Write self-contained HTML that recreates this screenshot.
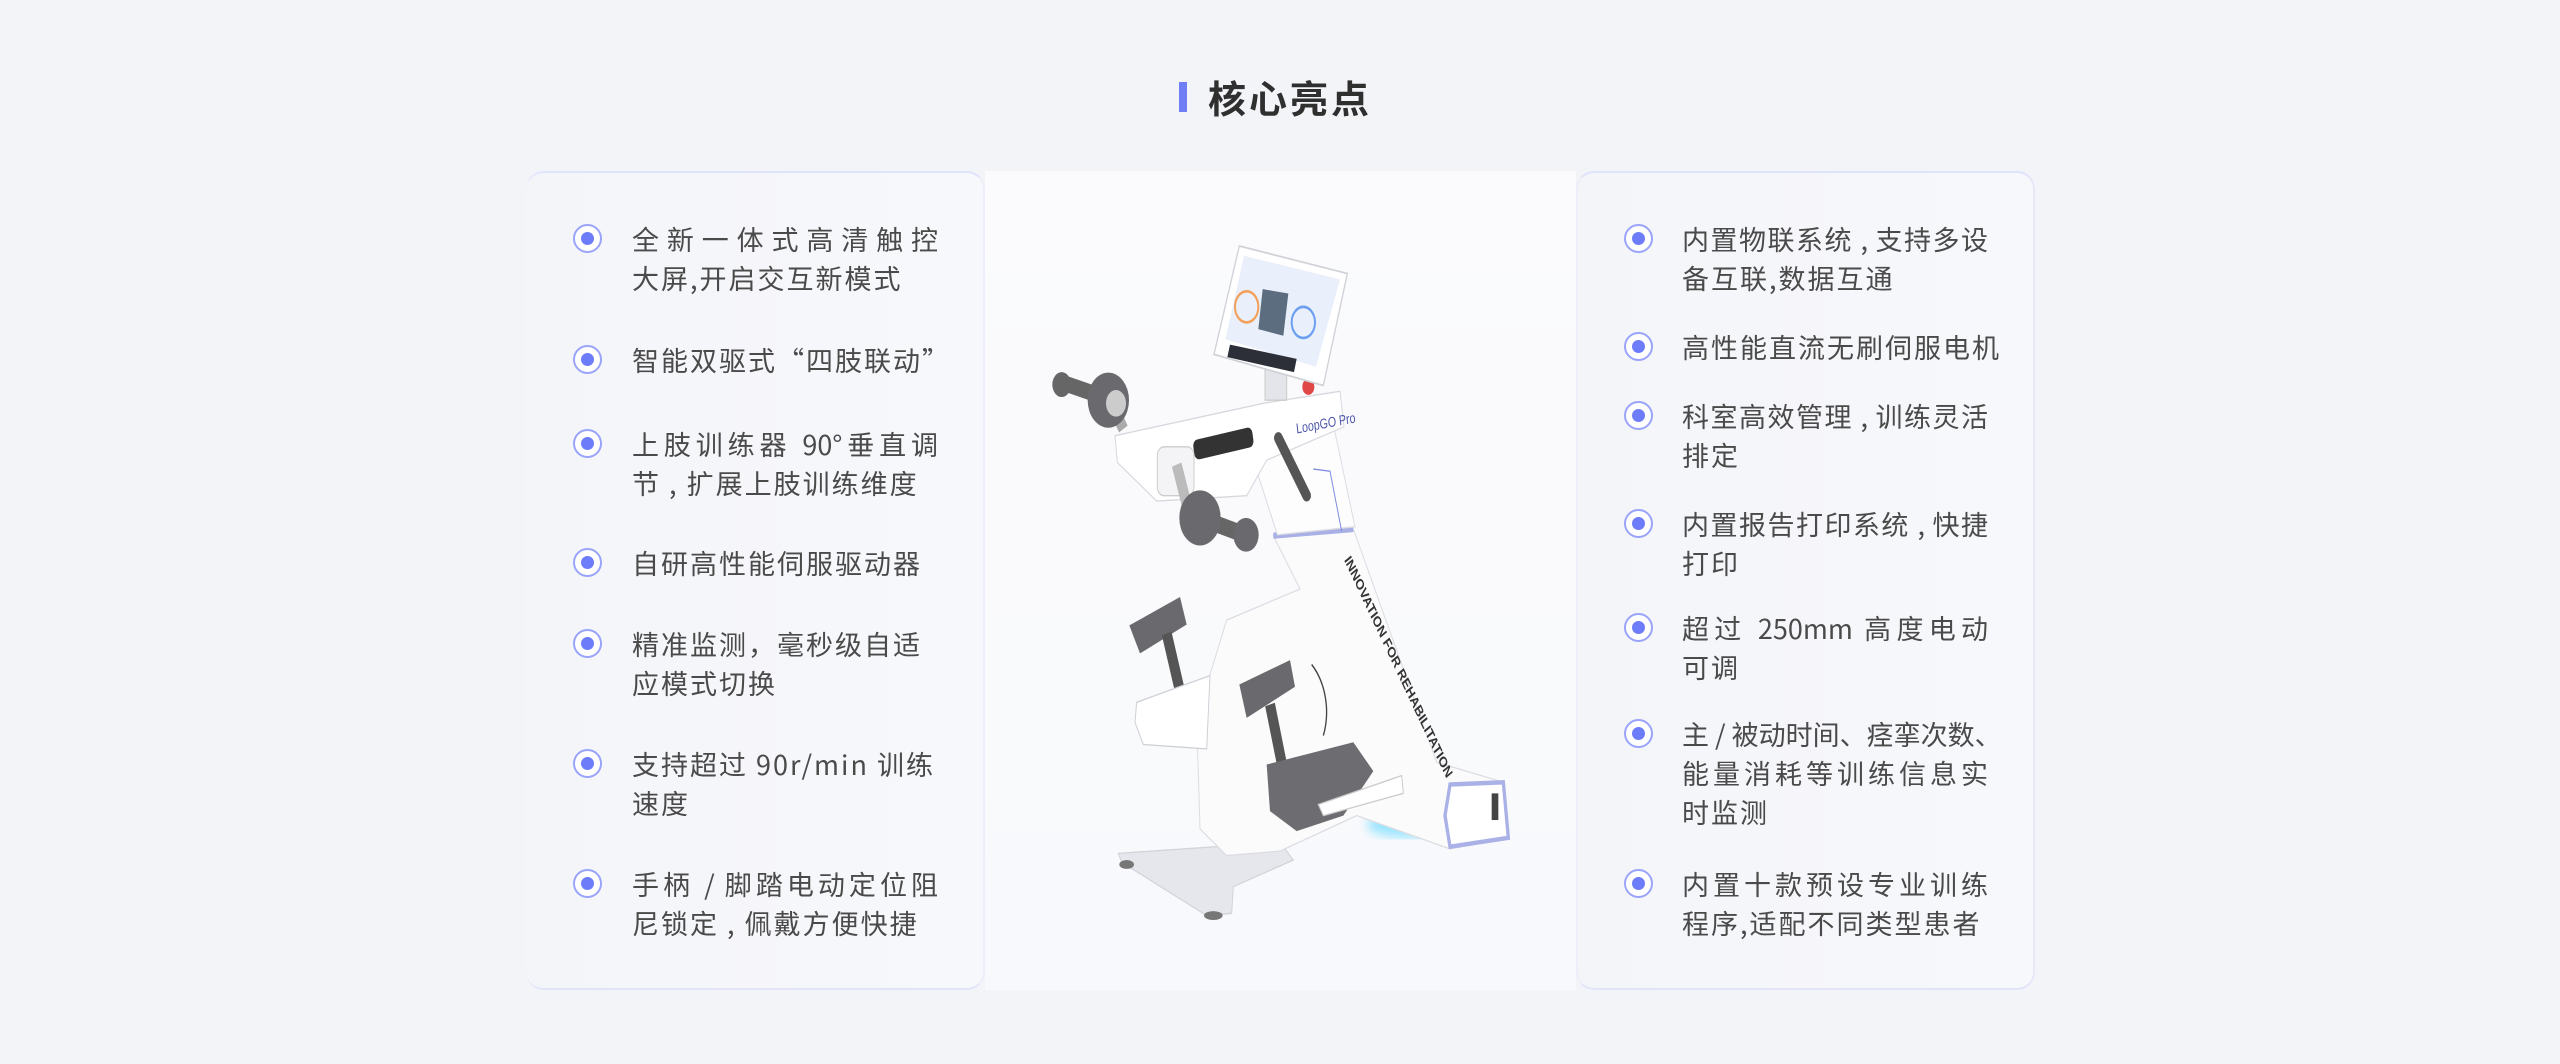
<!DOCTYPE html>
<html><head><meta charset="utf-8"><style>
*{margin:0;padding:0;box-sizing:border-box}
body{width:2560px;height:1064px;background:#f3f4f8;position:relative;overflow:hidden;font-family:"Liberation Sans","Noto Sans CJK SC",sans-serif;color:#454545}
.bar{position:absolute;left:1179px;top:82px;width:8px;height:30px;background:#6f7ef5}
.title{position:absolute;left:1208px;top:70px;font-size:38px;font-weight:bold;color:#2f2f2f;letter-spacing:3px;line-height:54px;font-family:"Noto Sans CJK SC",sans-serif}
.mid{position:absolute;left:985px;top:171px;width:591px;height:819px;background:linear-gradient(180deg,#fbfbfd,#f8f9fc)}
.card{position:absolute;top:171px;width:459px;height:819px;border-radius:18px;background:linear-gradient(90deg,#f4f5f9,#f7f8fb);border-top:2px solid #dfe3fb;border-bottom:2px solid #e2e5fa}
.l{left:526px;border-right:2px solid #eceef9}
.r{left:1576px;border-left:2px solid #eceef9;border-right:2px solid #e6e8f8}
.it{position:absolute;font-size:27px;line-height:39px;color:#4a4a4a;letter-spacing:2px;font-family:"Noto Sans CJK SC",sans-serif}
.it div{width:306px;white-space:nowrap}
.it div.j{text-align:justify;text-align-last:justify;letter-spacing:0}
.dot{position:absolute;width:29px;height:29px;border-radius:50%;border:2px solid #9aa4fb;background:#fff}
.dot::after{content:"";position:absolute;left:6px;top:6px;width:13px;height:13px;border-radius:50%;background:#6d7cf8}
</style></head><body>
<div class="bar"></div><div class="title">核心亮点</div>
<div class="mid"></div>
<div class="card l"></div>
<div class="card r"></div>

<div class="dot" style="left:573px;top:224px"></div>
<div class="it" style="left:632px;top:219px"><div class="j">全新一体式高清触控</div><div>大屏,开启交互新模式</div></div>
<div class="dot" style="left:573px;top:345px"></div>
<div class="it" style="left:632px;top:340px"><div>智能双驱式“四肢联动”</div></div>
<div class="dot" style="left:573px;top:429px"></div>
<div class="it" style="left:632px;top:424px"><div class="j">上肢训练器 90°垂直调</div><div>节 , 扩展上肢训练维度</div></div>
<div class="dot" style="left:573px;top:548px"></div>
<div class="it" style="left:632px;top:543px"><div>自研高性能伺服驱动器</div></div>
<div class="dot" style="left:573px;top:629px"></div>
<div class="it" style="left:632px;top:624px"><div>精准监测，毫秒级自适</div><div>应模式切换</div></div>
<div class="dot" style="left:573px;top:749px"></div>
<div class="it" style="left:632px;top:744px"><div>支持超过 90r/min 训练</div><div>速度</div></div>
<div class="dot" style="left:573px;top:869px"></div>
<div class="it" style="left:632px;top:864px"><div class="j">手柄 / 脚踏电动定位阻</div><div>尼锁定 , 佩戴方便快捷</div></div>

<div class="dot" style="left:1624px;top:224px"></div>
<div class="it" style="left:1682px;top:219px"><div class="j">内置物联系统 , 支持多设</div><div>备互联,数据互通</div></div>
<div class="dot" style="left:1624px;top:332px"></div>
<div class="it" style="left:1682px;top:327px"><div>高性能直流无刷伺服电机</div></div>
<div class="dot" style="left:1624px;top:401px"></div>
<div class="it" style="left:1682px;top:396px"><div class="j">科室高效管理 , 训练灵活</div><div>排定</div></div>
<div class="dot" style="left:1624px;top:509px"></div>
<div class="it" style="left:1682px;top:504px"><div class="j">内置报告打印系统 , 快捷</div><div>打印</div></div>
<div class="dot" style="left:1624px;top:613px"></div>
<div class="it" style="left:1682px;top:608px"><div class="j">超过 250mm 高度电动</div><div>可调</div></div>
<div class="dot" style="left:1624px;top:719px"></div>
<div class="it" style="left:1682px;top:714px"><div class="j">主 / 被动时间、痉挛次数、</div><div class="j">能量消耗等训练信息实</div><div>时监测</div></div>
<div class="dot" style="left:1624px;top:869px"></div>
<div class="it" style="left:1682px;top:864px"><div class="j">内置十款预设专业训练</div><div>程序,适配不同类型患者</div></div>

<svg style="position:absolute;left:1040px;top:238px" width="480" height="690" viewBox="0 0 1440 1553" preserveAspectRatio="none">
<defs><filter id="b"><feGaussianBlur stdDeviation="14"/></filter></defs>
<ellipse cx="1110" cy="1320" rx="130" ry="28" fill="#8fe3ff" filter="url(#b)"/>
<polygon points="235,1385 720,1360 760,1400 580,1460 575,1520 500,1525 245,1405" fill="#e6e7ec" stroke="#d2d4da" stroke-width="3"/>
<ellipse cx="260" cy="1410" rx="22" ry="10" fill="#777"/><ellipse cx="520" cy="1525" rx="28" ry="10" fill="#777"/>
<polygon points="700,670 940,655 1190,1180 1390,1225 1405,1350 1230,1375 950,1300 720,1380 560,1390 480,1330 470,1080 560,860 780,790" fill="#fbfbfc" stroke="#dcdde2" stroke-width="3"/>
<polygon points="1230,1230 1390,1225 1405,1350 1230,1370 1215,1300" fill="#fff" stroke="#aab1e6" stroke-width="10"/>
<rect x="1355" y="1250" width="20" height="60" fill="#444"/>
<line x1="700" y1="670" x2="940" y2="655" stroke="#a9b0e6" stroke-width="14"/>
<text x="0" y="0" font-family="Liberation Sans" font-weight="bold" font-size="34" fill="#333" transform="translate(912,725) rotate(58)">INNOVATION FOR REHABILITATION</text>
<polygon points="640,500 880,420 945,650 712,668" fill="#fdfdfe" stroke="#dcdde2" stroke-width="3"/>
<polyline points="820,520 870,525 905,660" fill="none" stroke="#7f8ce0" stroke-width="3"/>
<polygon points="225,445 670,372 900,345 912,425 680,500 620,580 350,592 232,505" fill="#fff" stroke="#d7d8de" stroke-width="3"/>
<rect x="460" y="440" width="180" height="45" rx="14" fill="#333" transform="rotate(-10 550 462)"/>
<rect x="352" y="470" width="110" height="110" rx="20" fill="#f4f4f6" stroke="#ccc" stroke-width="3"/>
<text x="770" y="440" font-family="Liberation Sans" font-size="32" fill="#4b55a8" transform="rotate(-8 770 440)">LoopGO Pro</text>
<line x1="715" y1="450" x2="800" y2="580" stroke="#555" stroke-width="26" stroke-linecap="round"/>
<line x1="220" y1="380" x2="250" y2="430" stroke="#aaa" stroke-width="30"/>
<line x1="65" y1="325" x2="200" y2="360" stroke="#666" stroke-width="36" stroke-linecap="round"/>
<circle cx="65" cy="330" r="28" fill="#666"/>
<circle cx="205" cy="365" r="62" fill="#6a6a6e"/><circle cx="228" cy="372" r="30" fill="#ccc"/>
<line x1="410" y1="510" x2="440" y2="600" stroke="#bbb" stroke-width="30"/>
<line x1="480" y1="630" x2="615" y2="668" stroke="#666" stroke-width="38" stroke-linecap="round"/>
<circle cx="480" cy="630" r="62" fill="#6a6a6e"/><circle cx="618" cy="668" r="38" fill="#6a6a6e"/>
<rect x="675" y="285" width="65" height="80" fill="#e4e5ea" stroke="#ccc" stroke-width="3"/>
<circle cx="805" cy="335" r="18" fill="#e04848"/>
<polygon points="598,18 922,80 850,332 522,262" fill="#fff" stroke="#d0d2d8" stroke-width="4"/>
<polygon points="612,40 900,93 828,290 556,228" fill="#e9f0fb"/>
<polygon points="668,115 745,125 730,220 655,205" fill="#5d6d80"/>
<circle cx="620" cy="155" r="35" fill="none" stroke="#f2a05a" stroke-width="6"/>
<circle cx="790" cy="190" r="35" fill="none" stroke="#6d9ff0" stroke-width="6"/>
<polygon points="570,240 770,272 762,302 562,268" fill="#2d2f38"/>
<polygon points="268,872 420,808 440,870 300,935" fill="#6a6a6e"/>
<line x1="380" y1="890" x2="420" y2="1020" stroke="#555" stroke-width="30"/>
<polygon points="290,1045 510,985 500,1150 310,1140 285,1090" fill="#fff" stroke="#cfd0d6" stroke-width="3"/>
<polygon points="598,1005 750,950 765,1010 620,1080" fill="#6a6a6e"/>
<line x1="690" y1="1050" x2="730" y2="1200" stroke="#555" stroke-width="30"/>
<polygon points="680,1185 940,1135 1000,1200 910,1300 770,1335 690,1290" fill="#6d6d71"/>
<polygon points="835,1275 1085,1210 1090,1250 850,1300" fill="#fff" stroke="#ccc" stroke-width="3"/>
<path d="M815,960 A150,150 0 0 1 850,1120" fill="none" stroke="#444" stroke-width="4"/>
</svg>
</body></html>
